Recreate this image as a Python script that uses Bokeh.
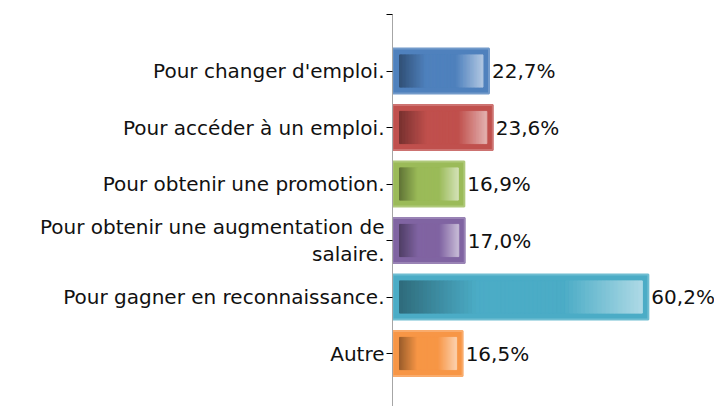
from bokeh.plotting import figure
from bokeh.models import Range1d, FixedTicker
from bokeh.embed import file_html
from bokeh.resources import INLINE
from bokeh.core.properties import value

categories = [
    "Pour changer d'emploi.",
    "Pour accéder à un emploi.",
    "Pour obtenir une promotion.",
    "Pour obtenir une augmentation de\nsalaire.",
    "Pour gagner en reconnaissance.",
    "Autre",
]
values = [22.7, 23.6, 16.9, 17.0, 60.2, 16.5]
value_labels = ["22,7%", "23,6%", "16,9%", "17,0%", "60,2%", "16,5%"]
base_colors = ["#4F81BD", "#C0504D", "#9BBB59", "#8064A2", "#4BACC6", "#F79646"]

FONT = "DejaVu Sans"
FS = "20px"


def hex2rgb(h):
    h = h.lstrip("#")
    return [int(h[i:i + 2], 16) for i in (0, 2, 4)]


def rgb2hex(c):
    return "#%02x%02x%02x" % tuple(max(0, min(255, int(round(v)))) for v in c)


def mix(a, b, t):
    return [a[i] + (b[i] - a[i]) * t for i in range(3)]


positions = list(range(1, len(categories) + 1))

PX_PER_UNIT = 4.25
p = figure(width=714, height=406, output_backend="svg", toolbar_location=None,
           x_range=Range1d(0, (714 - 392) / PX_PER_UNIT),
           y_range=Range1d((406 - 14) / 56.5, 0),
           min_border_left=392, min_border_right=0, min_border_top=14, min_border_bottom=0)
p.outline_line_color = None
p.xgrid.visible = False
p.ygrid.visible = False
p.xaxis.visible = False

bar_h = 0.8
inner_h = 0.57
inset_l = 7 / PX_PER_UNIT
inset_r = 6 / PX_PER_UNIT

borders = [rgb2hex(mix(hex2rgb(c), [255, 255, 255], 0.2)) for c in base_colors]
p.hbar(y=positions, right=values, left=0, height=bar_h, fill_color=base_colors,
       line_color=borders, line_width=2)

# gradient interior as stepped quads
N = 60
L, R, T, B, C = [], [], [], [], []
for pos, v, c in zip(positions, values, base_colors):
    base = hex2rgb(c)
    dark = [x * 0.62 for x in base]
    light = mix(base, [255, 255, 255], 0.55)
    x0 = inset_l
    x1 = v - inset_r
    for k in range(N):
        t = (k + 0.5) / N
        if t < 0.32:
            col = mix(dark, base, t / 0.32)
        elif t < 0.68:
            col = base
        else:
            col = mix(base, light, (t - 0.68) / 0.32)
        L.append(x0 + (x1 - x0) * k / N)
        R.append(x0 + (x1 - x0) * (k + 1) / N)
        T.append(pos - inner_h / 2)
        B.append(pos + inner_h / 2)
        C.append(rgb2hex(col))
p.quad(left=L, right=R, top=T, bottom=B, fill_color=C, line_color=C, line_width=1)

p.text(x=values, y=positions, text=value_labels, x_offset=3,
       text_baseline="middle", text_align="left",
       text_font=value(FONT), text_font_size=FS, text_color="#111111")

ax = p.yaxis[0]
ax.ticker = FixedTicker(ticks=[0] + positions)
overrides = {0: ""}
for pos, cat in zip(positions, categories):
    overrides[pos] = cat
ax.major_label_overrides = overrides
ax.axis_line_color = "#a6a6a6"
ax.axis_line_width = 1
ax.major_tick_line_color = "#000000"
ax.major_tick_out = 6
ax.major_tick_in = 0
ax.minor_tick_line_color = None
ax.major_label_standoff = 2
ax.major_label_text_font = FONT
ax.major_label_text_font_size = FS
ax.major_label_text_color = "#111111"
ax.major_label_text_line_height = 1.1

open("out.html", "w").write(file_html(p, INLINE))
